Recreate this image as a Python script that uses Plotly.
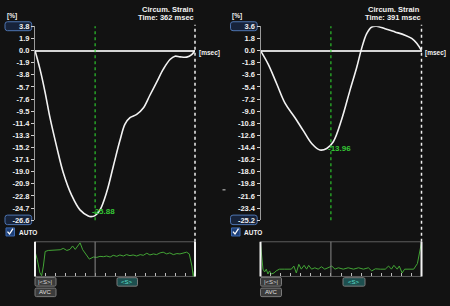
import plotly.graph_objects as go

# ---------------- data ----------------
left_t = [0, 11.3, 22.6, 33.9, 49.1, 64.0, 83.0, 101.8, 120.6, 126.7, 135.8, 147.1, 162.2, 177.2,
          192.3, 203.6, 214.9, 230.1, 245.0, 260.2, 275.3, 290.3, 305.4, 316.8, 328.1, 343.2, 354.5, 362]
left_strain = [0, -2.92, -6.47, -10.53, -15.10, -19.15, -22.71, -24.99, -25.95, -26.04, -25.88, -24.99,
               -22.19, -18.14, -14.08, -11.54, -10.53, -10.01, -9.01, -6.97, -4.95, -2.92, -1.40, -0.88,
               -0.99, -1.03, -0.64, 0]

right_t = [0, 18.9, 39.3, 59.5, 83.8, 103.9, 124.3, 144.5, 160.8, 176.8, 197.2, 217.4, 233.6, 245.8,
           257.9, 270.1, 282.2, 302.4, 326.6, 350.9, 367.2, 379.4, 391]
right_strain = [0, -2.05, -4.93, -7.82, -9.98, -11.90, -13.81, -14.78, -14.55, -13.55, -10.21, -5.88,
                -2.52, 0.36, 2.52, 3.49, 3.6, 3.24, 2.77, 2.28, 1.80, 1.08, 0]

left_mark_t, left_mark_label = 136, "-25.88"
right_mark_t, right_mark_label = 171, "-13.96"
left_time, right_time = 362, 391

left_ticks = [3.8, 1.9, 0.0, -1.9, -3.8, -5.7, -7.6, -9.5, -11.4, -13.3, -15.2, -17.1, -19.0, -20.9,
              -22.8, -24.7, -26.6]
left_ticktext = ["3.8", "1.9", "0.0", "-1.9", "-3.8", "-5.7", "-7.6", "-9.5", "-11.4", "-13.3", "-15.2",
                 "-17.1", "-19.0", "-20.9", "-22.8", "-24.7", "-26.6"]
right_ticks = [3.6, 1.8, 0.0, -1.8, -3.6, -5.4, -7.2, -9.0, -10.8, -12.6, -14.4, -16.2, -18.0, -19.8,
               -21.6, -23.4, -25.2]
right_ticktext = ["3.6", "1.8", "0.0", "-1.8", "-3.6", "-5.4", "-7.2", "-9.0", "-10.8", "-12.6", "-14.4",
                  "-16.2", "-18.0", "-19.8", "-21.6", "-23.4", "-25.2"]

left_bot_t = [0, 5, 11, 15, 19, 23, 30, 41, 57, 64, 72, 79, 85, 91, 96, 102, 108, 115, 123, 132, 140,
              147, 155, 162, 170, 177, 185, 192, 200, 207, 215, 222, 230, 238, 245, 253, 260, 268, 275,
              283, 290, 298, 305, 313, 321, 328, 336, 343, 349, 355, 358, 362]
left_bot_v = [72, 49, 11, 2, 30, 72, 75, 75, 77, 81, 75, 78, 88, 78, 86, 97, 77, 63, 50, 56, 55, 58, 57,
              59, 56, 61, 58, 62, 59, 63, 60, 62, 59, 63, 61, 67, 62, 65, 63, 68, 70, 65, 68, 63, 66, 65,
              67, 70, 65, 30, 0, 24]
right_bot_t = [0, 3, 6, 10, 14, 18, 22, 26, 33, 38, 46, 59, 67, 75, 81, 87, 93, 99, 106, 112, 117, 124,
               132, 140, 148, 156, 164, 173, 181, 189, 201, 213, 226, 238, 250, 262, 270, 279, 291, 303,
               311, 318, 324, 332, 337, 344, 350, 360, 372, 381, 384, 389, 391]
right_bot_v = [95, 49, 21, 13, 21, 7, 16, 7, 10, 16, 21, 21, 22, 21, 30, 10, 35, 21, 32, 21, 32, 21, 25,
               21, 28, 21, 25, 30, 21, 25, 21, 25, 21, 25, 21, 25, 16, 22, 21, 21, 30, 21, 32, 21, 30,
               10, 21, 21, 21, 37, 58, 92, 98]

# ---------------- layout helpers ----------------
W, H = 450, 306
BG = "#121212"
FONT = "Liberation Sans"


def PX(x):
    return x / W


def PY(y):
    return 1 - y / H


def rrect(x0, y0, x1, y1, r=2.5):
    rx, ry = r / W, r / H
    a, b, c, d = PX(x0), PY(y1), PX(x1), PY(y0)
    return (f"M{a+rx},{b} L{c-rx},{b} Q{c},{b} {c},{b+ry} L{c},{d-ry} Q{c},{d} {c-rx},{d} "
            f"L{a+rx},{d} Q{a},{d} {a},{d-ry} L{a},{b+ry} Q{a},{b} {a+rx},{b} Z")


fig = go.Figure()

panels = [
    dict(t=left_t, v=left_strain, bt=left_bot_t, bv=left_bot_v, mt=left_mark_t, ml=left_mark_label,
         time=left_time, ticks=left_ticks, tt=left_ticktext, x0=35, x1=195, bx=0,
         lab_x1=117, lab_y=214, ax="", ax2="3"),
    dict(t=right_t, v=right_strain, bt=right_bot_t, bv=right_bot_v, mt=right_mark_t, ml=right_mark_label,
         time=right_time, ticks=right_ticks, tt=right_ticktext, x0=260.5, x1=421.5, bx=225.5,
         lab_x1=353, lab_y=148.5, ax="2", ax2="4"),
]

shapes = []
annotations = []
top_px, bot_px = 23, 222.7
btop, bbot = 245, 280.7

for p in panels:
    xa, ya = "x" + p["ax"], "y" + p["ax"]
    xb, yb = "x" + p["ax2"], "y" + p["ax2"]
    fig.add_trace(go.Scatter(x=p["t"], y=p["v"], mode="lines", xaxis=xa, yaxis=ya,
                             line=dict(color="#f2f2f2", width=1.6, shape="spline", smoothing=1.0),
                             hoverinfo="skip", showlegend=False))
    fig.add_trace(go.Scatter(x=p["bt"], y=p["bv"], mode="lines", xaxis=xb, yaxis=yb,
                             line=dict(color="#43a536", width=1),
                             hoverinfo="skip", showlegend=False))
    dom = [PX(p["x0"]), PX(p["x1"])]
    key = p["ax"]
    fig.update_layout(**{
        "xaxis" + key: dict(domain=dom, range=[0, p["time"]], visible=False, anchor=ya),
        "yaxis" + key: dict(domain=[PY(bot_px), PY(top_px)], range=[p["ticks"][-1], p["ticks"][0]],
                            anchor=xa, tickmode="array", tickvals=p["ticks"], ticktext=p["tt"],
                            ticks="outside", ticklen=3, tickcolor="#cfcfcf", tickwidth=1,
                            showline=True, linecolor="#9a9a9a", linewidth=1, showgrid=False,
                            zeroline=True, zerolinecolor="#d4d4d4", zerolinewidth=1.6,
                            tickfont=dict(family=FONT, size=7.5, color="#f0f0f0", weight="bold")),
        "xaxis" + p["ax2"]: dict(domain=dom, range=[0, p["time"]], anchor=yb, showticklabels=False,
                                 ticks="inside", ticklen=3, tickcolor="#bdbdbd", dtick=p["time"] / 16,
                                 showgrid=False, zeroline=False, showline=False),
        "yaxis" + p["ax2"]: dict(domain=[PY(bbot), PY(btop)], range=[0, 100], visible=False, anchor=xb),
    })
    bx = p["bx"]
    shapes.append(dict(type="line", xref=xa, yref="paper", x0=p["mt"], x1=p["mt"], y0=PY(bot_px),
                       y1=PY(top_px), line=dict(color="#2fd42f", width=1.1, dash="dot")))
    shapes.append(dict(type="line", xref="paper", yref="paper", x0=PX(p["x1"]), x1=PX(p["x1"]),
                       y0=PY(btop), y1=PY(21.5), line=dict(color="#f0f0f0", width=1.5, dash="dot")))
    shapes.append(dict(type="rect", xref="paper", yref="paper", x0=dom[0], x1=dom[1], y0=PY(bbot),
                       y1=PY(btop), line=dict(color="#5e5e5e", width=1), layer="below"))
    for ex in (p["x0"], p["x1"]):
        shapes.append(dict(type="line", xref="paper", yref="paper", x0=PX(ex), x1=PX(ex), y0=PY(bbot),
                           y1=PY(btop), line=dict(color="#f4f4f4", width=2)))
    shapes.append(dict(type="line", xref=xb, yref="paper", x0=p["mt"], x1=p["mt"], y0=PY(bbot),
                       y1=PY(btop), line=dict(color="#8a8a8a", width=1)))
    for (y0, y1) in ((18.3, 27.5), (217.5, 227.3)):
        shapes.append(dict(type="path", xref="paper", yref="paper", layer="below",
                           path=rrect(bx + 5, y0, bx + 31.7, y1), fillcolor="#17233a",
                           line=dict(color="#4d74b0", width=1)))
    shapes.append(dict(type="rect", xref="paper", yref="paper", x0=PX(bx + 6), x1=PX(bx + 14.5),
                       y0=PY(239), y1=PY(230.7), fillcolor="#1d3f78", line=dict(color="#3e6bb0", width=1)))
    shapes.append(dict(type="path", xref="paper", yref="paper",
                       path=f"M{PX(bx+7.5)},{PY(234.5)} L{PX(bx+9.5)},{PY(237)} L{PX(bx+13)},{PY(231.5)}",
                       line=dict(color="#ffffff", width=1.3)))
    for (x0, y0, x1, y1, fill, txt, col) in (
            (p["x0"], 281.7, p["x0"] + 21, 290.7, "#3b3b3b", "|&lt;S&gt;|", "#d8d8d8"),
            (p["x0"], 292.7, p["x0"] + 21, 301.5, "#3b3b3b", "AVC", "#e0e0e0"),
            (bx + 117 if bx == 0 else 343, 282, (bx + 137.5) if bx == 0 else 365, 290.7, "#1d4f4f",
             "&lt;S&gt;", "#5fe0d0")):
        shapes.append(dict(type="path", xref="paper", yref="paper", path=rrect(x0, y0, x1, y1, 1.5),
                           fillcolor=fill, line=dict(color="#7a7a7a", width=1)))
        annotations.append(dict(xref="paper", yref="paper", x=PX((x0 + x1) / 2), y=PY((y0 + y1) / 2),
                                text=txt, showarrow=False, xanchor="center", yanchor="middle",
                                font=dict(family=FONT, size=6, color=col)))
    annotations += [
        dict(xref="paper", yref="paper", x=PX(p["x1"] + 0.5), y=PY(5.5), text="Circum. Strain",
             xanchor="right", yanchor="middle", showarrow=False,
             font=dict(family=FONT, size=7.5, color="#f2f2f2", weight="bold")),
        dict(xref="paper", yref="paper", x=PX(p["x1"] + 1), y=PY(13.5), text=f"Time: {p['time']} msec",
             xanchor="right", yanchor="middle", showarrow=False,
             font=dict(family=FONT, size=7.5, color="#f2f2f2", weight="bold")),
        dict(xref="paper", yref="paper", x=PX(bx + 4.5), y=PY(12.5), text="[%]",
             xanchor="left", yanchor="middle", showarrow=False,
             font=dict(family=FONT, size=6.5, color="#f2f2f2", weight="bold")),
        dict(xref="paper", yref="paper", x=PX(p["x1"] + 1.5), y=PY(50.5), text="[msec]",
             xanchor="left", yanchor="middle", showarrow=False,
             font=dict(family=FONT, size=6.5, color="#f2f2f2", weight="bold")),
        dict(xref="paper", yref="paper", x=PX(bx + 16.5), y=PY(235), text="AUTO",
             xanchor="left", yanchor="middle", showarrow=False,
             font=dict(family=FONT, size=6.5, color="#f2f2f2", weight="bold")),
        dict(xref="paper", yref="paper", x=PX(p["lab_x1"]), y=PY(p["lab_y"]), text=p["ml"],
             xanchor="right", yanchor="middle", showarrow=False,
             font=dict(family=FONT, size=8, color="#35c835", weight="bold")),
    ]

shapes.append(dict(type="line", xref="paper", yref="paper", x0=PX(222.5), x1=PX(225.5), y0=PY(191.5),
                   y1=PY(191.5), line=dict(color="#cfcfcf", width=1)))

fig.update_layout(width=W, height=H, margin=dict(l=0, r=0, t=0, b=0), paper_bgcolor=BG,
                  plot_bgcolor=BG, showlegend=False, shapes=shapes, annotations=annotations)
fig.write_html("out.html")
